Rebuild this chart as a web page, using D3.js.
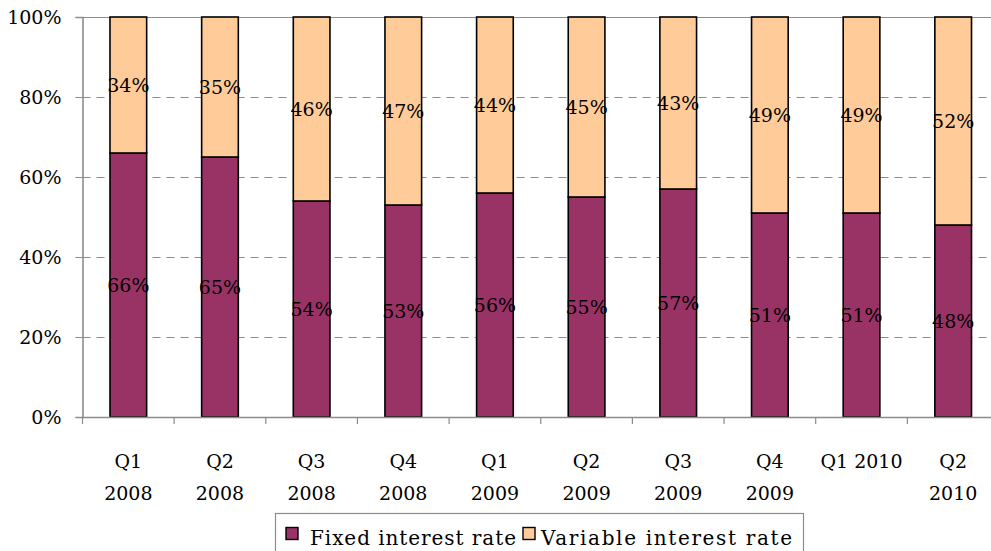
<!DOCTYPE html>
<html>
<head>
<meta charset="utf-8">
<script src="https://cdn.jsdelivr.net/npm/d3@7"></script>
<style>
  html, body { margin: 0; padding: 0; background: #fff; }
  svg { display: block; }
  text { font-family: "DejaVu Serif", "Liberation Serif", serif; fill: #000; }
</style>
</head>
<body>
<svg id="chart" width="991" height="551"></svg>
<script>
// Share of loans by interest rate type, per quarter
const quarters = ["Q1 2008", "Q2 2008", "Q3 2008", "Q4 2008", "Q1 2009",
                  "Q2 2009", "Q3 2009", "Q4 2009", "Q1 2010", "Q2 2010"];
const fixedRate = [66, 65, 54, 53, 56, 55, 57, 51, 51, 48];
const variableRate = [34, 35, 46, 47, 44, 45, 43, 49, 49, 52];
const seriesNames = ["Fixed interest rate", "Variable interest rate"];
const seriesColors = ["#993366", "#FFCC99"];
const yTicks = [0, 20, 40, 60, 80, 100];

const svg = d3.select("#chart");
const plot = { left: 82.5, right: 999, top: 17, bottom: 417 };

const x = d3.scaleBand().domain(quarters).range([plot.left, plot.right]).paddingInner(0).paddingOuter(0);
const y = d3.scaleLinear().domain([0, 100]).range([plot.bottom, plot.top]);
const barW = x.bandwidth() * 0.4;

// gridlines
svg.append("g").selectAll("line").data(yTicks.filter(d => d > 0)).join("line")
  .attr("x1", plot.left).attr("x2", plot.right)
  .attr("y1", d => Math.round(y(d)) + 0.5).attr("y2", d => Math.round(y(d)) + 0.5)
  .attr("stroke", "#8c8c8c").attr("stroke-width", 1)
  .attr("stroke-dasharray", d => d === 100 ? null : "8,6");

// stacked data
const rows = quarters.map((q, i) => ({ q, fixed: fixedRate[i], variable: variableRate[i] }));
const stack = d3.stack().keys(["fixed", "variable"]);
const layers = stack(rows);

const g = svg.append("g");
layers.forEach((layer, li) => {
  g.append("g").selectAll("rect").data(layer).join("rect")
    .attr("x", d => x(d.data.q) + (x.bandwidth() - barW) / 2)
    .attr("y", d => y(d[1]))
    .attr("width", barW)
    .attr("height", d => y(d[0]) - y(d[1]))
    .attr("fill", seriesColors[li])
    .attr("stroke", "#000").attr("stroke-width", 1.6);
});

// value labels
layers.forEach(layer => {
  g.append("g").selectAll("text").data(layer).join("text")
    .attr("x", d => x(d.data.q) + x.bandwidth() / 2)
    .attr("y", d => (y(d[0]) + y(d[1])) / 2)
    .attr("dy", "0.36em")
    .attr("text-anchor", "middle")
    .attr("font-size", 19)
    .text(d => (d[1] - d[0]) + "%");
});

// y axis
const yAxis = d3.axisLeft(y).tickValues(yTicks).tickFormat(d => d + "%").tickSize(7).tickPadding(14);
const ya = svg.append("g").attr("transform", `translate(${plot.left},0)`).call(yAxis);
ya.select(".domain").attr("stroke", "#8c8c8c").attr("stroke-width", 1.6);
ya.selectAll(".tick line").attr("stroke", "#8c8c8c");
ya.selectAll(".tick text").attr("font-size", 19).attr("font-family", "DejaVu Serif").attr("fill", "#000");

// x axis: line with ticks at category boundaries
const xa = svg.append("g");
xa.append("line").attr("x1", plot.left).attr("x2", plot.right)
  .attr("y1", plot.bottom + 0.5).attr("y2", plot.bottom + 0.5)
  .attr("stroke", "#8c8c8c").attr("stroke-width", 1.6);
xa.selectAll("line.tk").data(quarters.concat(["end"])).join("line").attr("class", "tk")
  .attr("x1", (d, i) => plot.left + i * x.bandwidth())
  .attr("x2", (d, i) => plot.left + i * x.bandwidth())
  .attr("y1", plot.bottom).attr("y2", plot.bottom + 7)
  .attr("stroke", "#8c8c8c").attr("stroke-width", 1.2);

// category labels, wrapped onto two lines where they do not fit
xa.selectAll("text").data(quarters).join("text")
  .attr("text-anchor", "middle")
  .attr("font-size", 19)
  .each(function (d) {
    const t = d3.select(this);
    const cx = x(d) + x.bandwidth() / 2;
    const parts = d === "Q1 2010" ? [d] : d.split(" ");
    parts.forEach((p, i) => {
      t.append("tspan").attr("x", cx).attr("y", 468 + i * 32).text(p);
    });
  });

// legend
const lg = svg.append("g");
lg.append("rect").attr("x", 275.5).attr("y", 513.5).attr("width", 528).attr("height", 60)
  .attr("fill", "#fff").attr("stroke", "#8c8c8c").attr("stroke-width", 1.2);
const items = [{ x: 286, tx: 310, w: 206 }, { x: 523, tx: 541, w: 251 }];
seriesNames.forEach((name, i) => {
  lg.append("rect").attr("x", items[i].x).attr("y", 527.5).attr("width", 12).attr("height", 12)
    .attr("fill", seriesColors[i]).attr("stroke", "#000").attr("stroke-width", 1.4);
  lg.append("text").attr("x", items[i].tx).attr("y", 545).attr("font-size", 20)
    .attr("textLength", items[i].w).attr("lengthAdjust", "spacing").text(name);
});
</script>
</body>
</html>
